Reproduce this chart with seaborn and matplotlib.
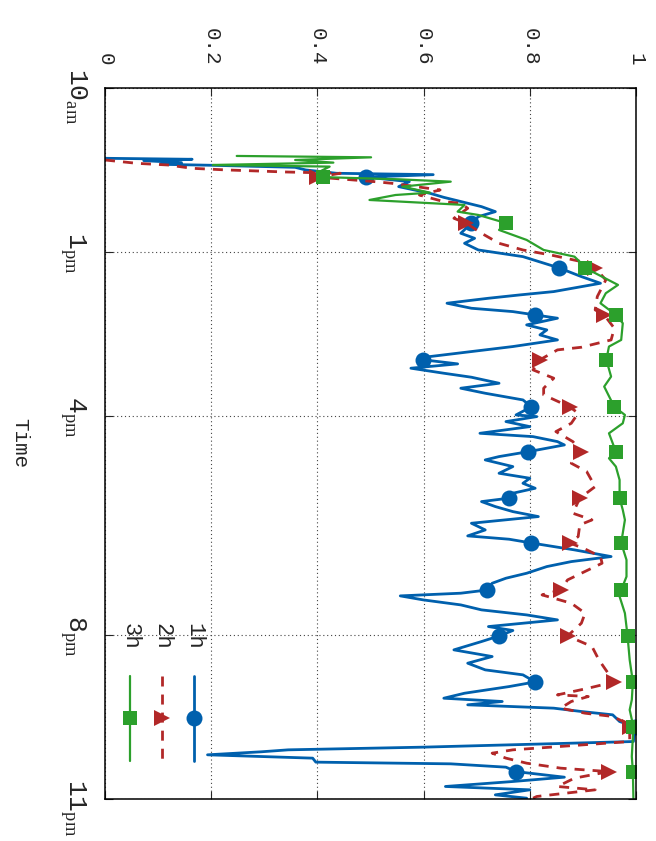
import numpy as np
import matplotlib
matplotlib.use("Agg")
import matplotlib.pyplot as plt
import matplotlib.transforms as mtransforms
import seaborn as sns

# time of day in decimal hours, and the fraction (0..1)
t_1h = [11.286, 11.304, 11.329, 11.365, 11.396, 11.414, 11.451, 11.499, 11.560, 11.585,
        11.63, 11.713, 11.804, 11.926, 12.000, 12.170, 12.261, 12.353, 12.47, 12.657,
        12.749, 12.840, 12.962, 13.084, 13.29, 13.449, 13.571, 13.723, 13.784, 13.845,
        13.936, 14.028, 14.089, 14.15, 14.210, 14.332, 14.424, 14.515, 14.607, 14.728,
        14.820, 14.911, 14.97, 15.045, 15.124, 15.216, 15.289, 15.399, 15.490, 15.582,
        15.704, 15.83, 15.978, 16.009, 16.100, 16.192, 16.314, 16.375, 16.466, 16.527,
        16.65, 16.740, 16.801, 16.923, 17.045, 17.136, 17.228, 17.319, 17.410, 17.50,
        17.563, 17.654, 17.746, 17.837, 17.959, 18.081, 18.190, 18.251, 18.32, 18.446,
        18.568, 18.660, 18.751, 18.873, 18.964, 19.056, 19.18, 19.238, 19.287, 19.360,
        19.452, 19.543, 19.635, 19.726, 19.848, 19.920, 20.02, 20.122, 20.274, 20.396,
        20.518, 20.640, 20.731, 20.86, 20.945, 21.067, 21.158, 21.218, 21.279, 21.340,
        21.401, 21.462, 21.584, 21.68, 21.950, 22.053, 22.102, 22.138, 22.193, 22.254,
        22.327, 22.358, 22.419, 22.50, 22.602, 22.681, 22.772, 22.833, 22.925, 22.986]
v_1h = [0.001, 0.164, 0.073, 0.144, 0.105, 0.203, 0.358, 0.378, 0.436, 0.618,
        0.492, 0.573, 0.553, 0.612, 0.638, 0.709, 0.735, 0.703, 0.690, 0.670,
        0.696, 0.677, 0.703, 0.787, 0.855, 0.897, 0.933, 0.845, 0.781, 0.722,
        0.644, 0.690, 0.768, 0.810, 0.852, 0.794, 0.832, 0.819, 0.852, 0.768,
        0.690, 0.612, 0.599, 0.664, 0.576, 0.638, 0.690, 0.742, 0.670, 0.716,
        0.787, 0.803, 0.774, 0.813, 0.755, 0.800, 0.706, 0.806, 0.852, 0.865,
        0.797, 0.742, 0.716, 0.768, 0.742, 0.800, 0.787, 0.810, 0.768, 0.761,
        0.709, 0.735, 0.768, 0.816, 0.690, 0.716, 0.683, 0.761, 0.803, 0.884,
        0.953, 0.878, 0.832, 0.794, 0.755, 0.729, 0.719, 0.670, 0.556, 0.599,
        0.670, 0.709, 0.794, 0.852, 0.722, 0.768, 0.742, 0.709, 0.657, 0.729,
        0.683, 0.716, 0.787, 0.810, 0.761, 0.677, 0.638, 0.748, 0.683, 0.845,
        0.897, 0.956, 0.969, 0.998, 0.995, 0.599, 0.345, 0.294, 0.193, 0.391,
        0.397, 0.651, 0.755, 0.774, 0.865, 0.768, 0.641, 0.800, 0.735, 0.794]

t_2h = [11.317, 11.378, 11.408, 11.469, 11.499, 11.518, 11.536, 11.560, 11.63, 11.713,
        11.743, 11.865, 11.957, 12.078, 12.109, 12.200, 12.383, 12.47, 12.657, 12.840,
        12.962, 13.053, 13.175, 13.29, 13.510, 13.814, 14.058, 14.15, 14.393, 14.607,
        14.741, 14.789, 14.97, 15.155, 15.307, 15.490, 15.612, 15.83, 15.947, 16.131,
        16.283, 16.466, 16.65, 16.862, 17.014, 17.289, 17.50, 17.776, 17.898, 17.989,
        18.203, 18.32, 18.416, 18.568, 18.690, 18.812, 18.995, 19.18, 19.269, 19.421,
        19.604, 19.787, 20.02, 20.213, 20.457, 20.640, 20.86, 20.975, 21.097, 21.127,
        21.218, 21.340, 21.432, 21.492, 21.614, 21.68, 21.950, 22.102, 22.163, 22.254,
        22.346, 22.437, 22.50, 22.620, 22.772, 22.833, 22.955, 22.986]
v_2h = [0.000, 0.060, 0.118, 0.164, 0.229, 0.287, 0.339, 0.443, 0.400, 0.508,
        0.540, 0.631, 0.592, 0.638, 0.670, 0.683, 0.657, 0.680, 0.709, 0.742,
        0.787, 0.839, 0.897, 0.923, 0.943, 0.927, 0.923, 0.940, 0.959, 0.953,
        0.897, 0.852, 0.819, 0.806, 0.845, 0.826, 0.826, 0.875, 0.891, 0.878,
        0.849, 0.881, 0.897, 0.878, 0.907, 0.923, 0.894, 0.881, 0.917, 0.894,
        0.891, 0.875, 0.901, 0.933, 0.936, 0.910, 0.871, 0.858, 0.823, 0.878,
        0.904, 0.897, 0.871, 0.917, 0.930, 0.943, 0.959, 0.910, 0.852, 0.910,
        0.878, 0.858, 0.904, 0.956, 0.982, 0.988, 0.988, 0.768, 0.729, 0.755,
        0.794, 0.858, 0.949, 0.884, 0.852, 0.923, 0.813, 0.806]

t_3h = [11.243, 11.268, 11.317, 11.365, 11.408, 11.438, 11.530, 11.63, 11.670, 11.713,
        11.804, 11.914, 11.957, 12.048, 12.139, 12.261, 12.322, 12.47, 12.596, 12.779,
        12.962, 13.084, 13.206, 13.29, 13.601, 13.753, 13.936, 14.15, 14.302, 14.607,
        14.728, 14.97, 15.277, 15.460, 15.83, 15.978, 16.131, 16.314, 16.65, 16.771,
        16.923, 17.167, 17.50, 17.715, 17.898, 18.32, 18.629, 18.934, 19.18, 19.299,
        19.604, 20.02, 20.457, 20.86, 21.188, 21.371, 21.68, 22.224, 22.50, 22.986]
v_3h = [0.248, 0.501, 0.358, 0.430, 0.203, 0.423, 0.404, 0.410, 0.553, 0.651,
        0.560, 0.612, 0.547, 0.498, 0.677, 0.664, 0.703, 0.755, 0.742, 0.794,
        0.826, 0.884, 0.897, 0.904, 0.966, 0.943, 0.933, 0.962, 0.975, 0.972,
        0.949, 0.944, 0.953, 0.940, 0.959, 0.979, 0.975, 0.949, 0.962, 0.949,
        0.962, 0.969, 0.969, 0.975, 0.979, 0.972, 0.982, 0.982, 0.972, 0.969,
        0.979, 0.984, 0.988, 0.994, 0.992, 0.988, 0.995, 0.992, 0.994, 0.995]

# times at which the point markers sit
mark_times = [11.63, 12.47, 13.29, 14.15, 14.97, 15.83, 16.65, 17.50,
              18.32, 19.18, 20.02, 20.86, 21.68, 22.50]

time_ticks = [10, 13, 16, 20, 23]
time_labels = [r"$\mathtt{10}_{\mathrm{am}}$", r"$\mathtt{1}_{\mathrm{pm}}$",
               r"$\mathtt{4}_{\mathrm{pm}}$", r"$\mathtt{8}_{\mathrm{pm}}$",
               r"$\mathtt{11}_{\mathrm{pm}}$"]
frac_ticks = [0, 0.2, 0.4, 0.6, 0.8, 1]
frac_labels = ["0", "0.2", "0.4", "0.6", "0.8", "1"]

series = [
    ("1h", t_1h, v_1h, "#0060ad", "-", "o", 11.5),
    ("2h", t_2h, v_2h, "#b22828", (0, (3.6, 2.9)), ">", 11),
    ("3h", t_3h, v_3h, "#2ca02c", "-", "s", 9.5),
]

sns.set_style("ticks")
plt.rcParams["font.family"] = ["Liberation Mono", "DejaVu Sans"]
plt.rcParams["mathtext.fontset"] = "custom"
plt.rcParams["mathtext.tt"] = "Liberation Mono"
plt.rcParams["mathtext.rm"] = "Liberation Serif"

fig = plt.figure(figsize=(6.56, 8.41), dpi=100)
ax = fig.add_axes([0.1601, 0.0500, 0.8095, 0.8454])

for name, t, v, col, ls, mk, ms in series:
    t = np.array(t)
    idx = [i for i, x in enumerate(t) if np.any(np.isclose(x, mark_times))]
    lw = 1.6 if name == "3h" else 2.0
    sns.lineplot(x=v, y=t, ax=ax, sort=False, estimator=None, legend=False,
                 color=col, linestyle=ls, linewidth=lw, marker=mk, markersize=ms,
                 markevery=idx, markeredgewidth=0)

# hand-made legend, rotated like the rest of the chart
leg_x = [0.168, 0.107, 0.047]
for (name, t, v, col, ls, mk, ms), lx in zip(series, leg_x):
    lw = 1.6 if name == "3h" else 2.0
    ax.plot([lx, lx, lx], [0.173, 0.114, 0.053], transform=ax.transAxes,
            color=col, linestyle=ls, linewidth=lw, marker=mk, markersize=ms,
            markevery=[1], markeredgewidth=0, clip_on=False)
    ax.text(lx, 0.229, name, transform=ax.transAxes, rotation=-90,
            ha="center", va="center", fontsize=16)

ax.set_xlim(0, 1)
ax.set_ylim(23, 10)
ax.set_xticks(frac_ticks)
ax.set_xticklabels(frac_labels, rotation=-90, fontsize=15)
ax.set_yticks(time_ticks)
ax.set_yticklabels(time_labels, rotation=-90, fontsize=19)
ax.xaxis.tick_top()
ax.tick_params(axis="x", which="both", direction="in", top=True, bottom=True,
               labeltop=True, labelbottom=False, length=6, width=0.8, pad=16)
ax.tick_params(axis="y", which="both", direction="in", left=True, right=True,
               length=6, width=0.8, pad=12)
# nudge the rotated time labels so they sit centred on their ticks
shift = mtransforms.ScaledTranslation(0, 10 / 100, fig.dpi_scale_trans)
for lab in ax.get_yticklabels():
    lab.set_transform(lab.get_transform() + shift)
ax.set_xlabel("")
ax.set_ylabel("Time", rotation=-90, fontsize=15)
ax.yaxis.set_label_coords(-0.178, 0.5)
ax.grid(True, linestyle=(0, (1, 2.5)), color="#444444", linewidth=0.8)
ax.set_axisbelow(True)
for sp in ax.spines.values():
    sp.set_color("black")
    sp.set_linewidth(1.1)

fig.savefig("out.png", dpi=100)
